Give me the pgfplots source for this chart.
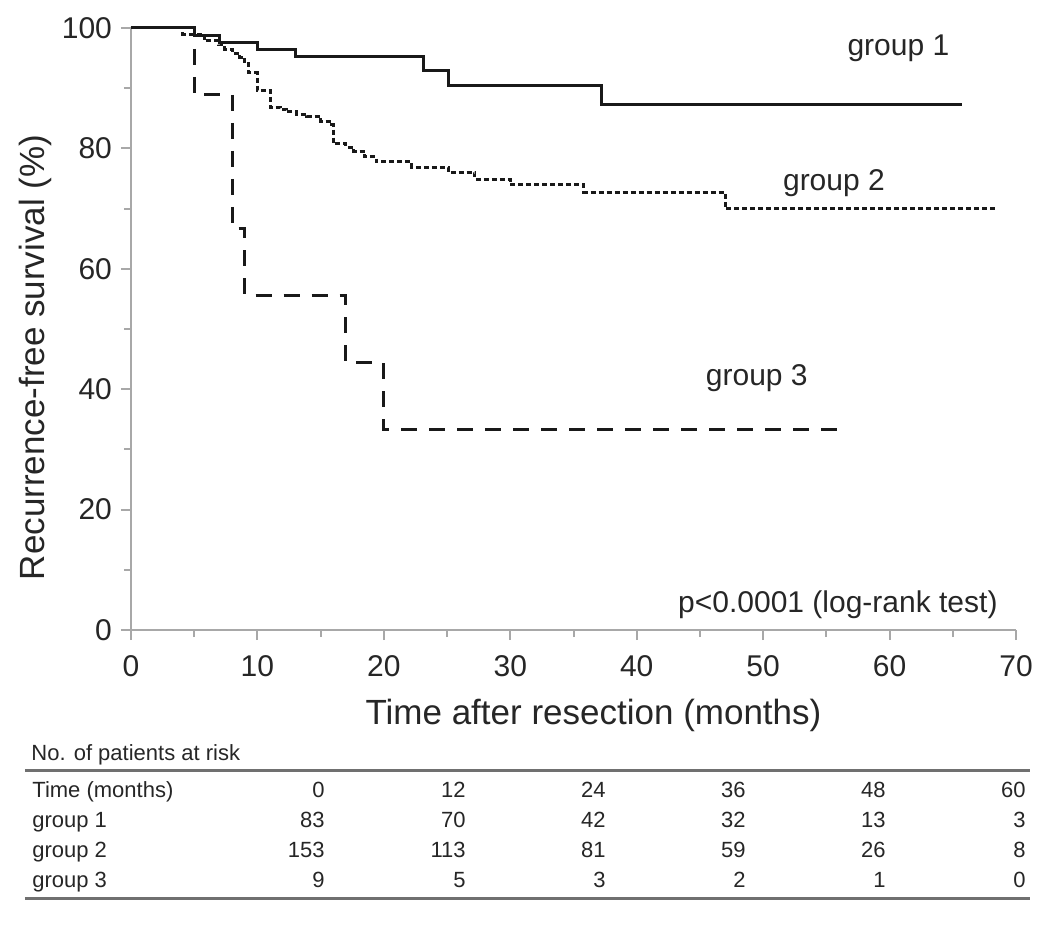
\documentclass[border=0pt]{standalone}
\usepackage{fontspec}
\setmainfont{Liberation Sans}
\usepackage{pgfplots}
\pgfplotsset{compat=1.18}
\definecolor{axgray}{HTML}{A8A8A8}
\definecolor{txt}{HTML}{262626}
\definecolor{rule}{HTML}{707070}

\begin{document}
\begin{tikzpicture}[x=1pt,y=1pt]
\useasboundingbox (-65.5,-148.5) rectangle (464,315);
\begin{axis}[
  at={(0,0)}, anchor=south west,
  scale only axis, width=442.5pt, height=301pt,
  xmin=0, xmax=70, ymin=0, ymax=100,
  axis x line=bottom, axis y line=left,
  axis line style={axgray, line width=1.2pt, -},
  xtick={0,10,...,70}, ytick={0,20,...,100},
  minor x tick num=1, minor y tick num=1,
  tick align=outside,
  major tick length=5pt, minor tick length=3.5pt,
  every tick/.style={axgray, line width=1pt},
  tick label style={font=\fontsize{15}{18}\selectfont, text=txt},
  xticklabel style={yshift=-4pt},
  yticklabel style={xshift=-1pt},
  /pgf/number format/assume math mode=true,
  xlabel={Time after resection (months)},
  ylabel={Recurrence-free survival (\%)},
  label style={font=\fontsize{17.5}{21}\selectfont, text=txt},
  xlabel style={at={(axis description cs:0.5226,0)}, anchor=center, yshift=-42.5pt},
  ylabel style={at={(axis description cs:-0.1085,0.4527)}, anchor=center},
  clip=false,
]
% group 3
\addplot[const plot, black!90, line width=1.5pt, dash pattern=on 8pt off 6pt] coordinates {
  (0,100) (5,88.9) (8,66.7) (9,55.6) (17,44.4) (20,33.3) (56.5,33.3)
};
% group 2
\addplot[const plot, black!90, line width=1.5pt, dash pattern=on 2.5pt off 1.5pt] coordinates {
  (0,100) (4.1,99.0) (5.8,97.9) (6.9,97.2) (7.4,96.5) (8.0,95.8) (8.6,95.1)
  (9.0,94.1) (9.3,92.6) (10.0,89.7) (11.0,86.8) (11.8,86.5) (12.3,86.1)
  (13.1,85.7) (13.9,85.3) (15.0,84.5) (15.7,83.9) (16.0,80.8) (17.0,80.2)
  (17.6,79.5) (18.5,78.6) (19.4,77.8) (22.2,76.9) (25.1,76.0) (27.2,74.9)
  (30.0,74.0) (35.8,72.7) (47.0,70.0) (68.5,70.0)
};
% group 1
\addplot[const plot, black!90, line width=1.5pt] coordinates {
  (0,100) (5,98.8) (7,97.6) (10,96.4) (13,95.2) (23.1,92.9) (25.1,90.5)
  (37.2,87.3) (65.7,87.3)
};
\node[font=\fontsize{15}{18}\selectfont, text=txt] at (axis cs:60.7,96.7) {group 1};
\node[font=\fontsize{15}{18}\selectfont, text=txt] at (axis cs:55.6,74.3) {group 2};
\node[font=\fontsize{15}{18}\selectfont, text=txt] at (axis cs:49.5,41.9) {group 3};
\node[anchor=east, font=\fontsize{15}{18}\selectfont, text=txt] at (axis cs:69.1,4.2) {p<0.0001 (log-rank test)};
\end{axis}
% number at risk table
\begin{scope}[every node/.style={font=\fontsize{11}{13}\selectfont, text=txt, inner sep=0pt}]
\node[anchor=base west] at (-50,-65) {No. of patients at risk};
\draw[rule, line width=1.5pt] (-53,-70) -- (449.5,-70);
\draw[rule, line width=1.5pt] (-53,-134) -- (449.5,-134);
\node[anchor=base west] at (-49.5,-83.5) {Time (months)};
\node[anchor=base west] at (-49.5,-98.5) {group 1};
\node[anchor=base west] at (-49.5,-113.5) {group 2};
\node[anchor=base west] at (-49.5,-128.5) {group 3};
\foreach \x/\v in {97/0,167.5/12,237.5/24,307.5/36,377.5/48,447.5/60}
  \node[anchor=base east] at (\x,-83.5) {\v};
\foreach \x/\v in {97/83,167.5/70,237.5/42,307.5/32,377.5/13,447.5/3}
  \node[anchor=base east] at (\x,-98.5) {\v};
\foreach \x/\v in {97/153,167.5/113,237.5/81,307.5/59,377.5/26,447.5/8}
  \node[anchor=base east] at (\x,-113.5) {\v};
\foreach \x/\v in {97/9,167.5/5,237.5/3,307.5/2,377.5/1,447.5/0}
  \node[anchor=base east] at (\x,-128.5) {\v};
\end{scope}
\end{tikzpicture}
\end{document}
